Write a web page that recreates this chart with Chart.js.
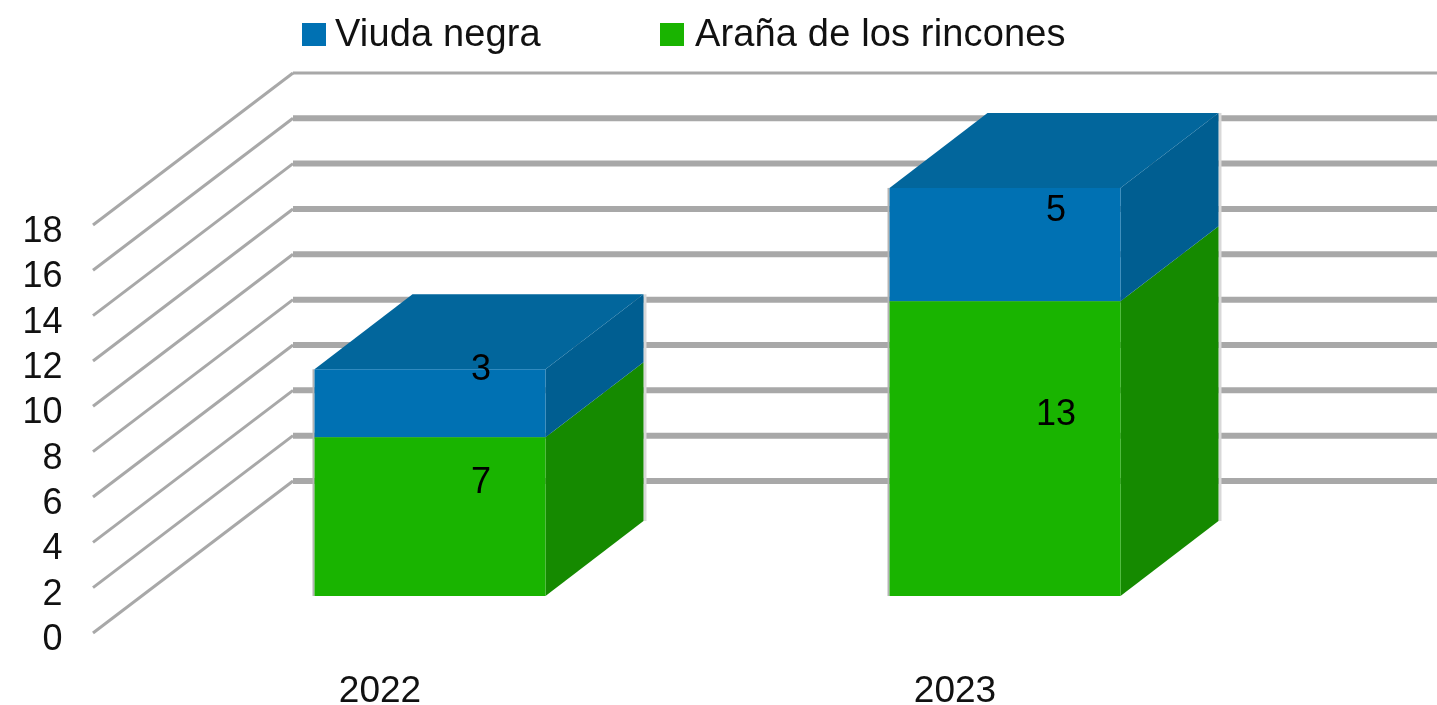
<!DOCTYPE html>
<html>
<head>
<meta charset="utf-8">
<style>
  html, body { margin: 0; background: #fff; }
  canvas { display: block; filter: blur(0.6px); }
</style>
<script src="https://cdn.jsdelivr.net/npm/chart.js@4"></script>
</head>
<body>
<canvas id="grafico" width="1437" height="705"></canvas>
<script>
const anios = ['2022', '2023'];
const aranaRincones = [7, 13];
const viudaNegra = [3, 5];
const ticksPared = [0, 2, 4, 6, 8, 10, 12, 14, 16, 18];

const fuente = '"Liberation Sans", Arial, sans-serif';
const verde = '#19b400', verdeLado = '#158a00';
const azul = '#0071b3', azulLado = '#005e91', azulTecho = '#02669c';

// desplazamiento de la profundidad
const fondoBarra = { x: 98, y: -75 };
const fondoPared = { x: 200, y: -152 };

function poligono(ctx, puntos, color) {
  ctx.fillStyle = color;
  ctx.beginPath();
  puntos.forEach((p, i) => i ? ctx.lineTo(p[0], p[1]) : ctx.moveTo(p[0], p[1]));
  ctx.closePath();
  ctx.fill();
}

const pared = {
  id: 'pared',
  beforeDatasetsDraw(chart) {
    const ctx = chart.ctx;
    const xIni = 93;
    ctx.save();
    ctx.strokeStyle = '#a8a8a8';
    ticksPared.forEach((v) => {
      const y = chart.scales.y.getPixelForValue(v);
      ctx.lineWidth = 3;
      ctx.beginPath();
      ctx.moveTo(xIni, y);
      ctx.lineTo(xIni + fondoPared.x, y + fondoPared.y);
      ctx.stroke();
      ctx.lineWidth = v === 18 ? 3 : 6;
      ctx.beginPath();
      ctx.moveTo(xIni + fondoPared.x, y + fondoPared.y);
      ctx.lineTo(chart.width, y + fondoPared.y);
      ctx.stroke();
    });
    ctx.restore();
  }
};

const caras = {
  id: 'caras',
  beforeDatasetsDraw(chart) {
    const ctx = chart.ctx;
    const d = fondoBarra;
    const colores = [verdeLado, azulLado];
    anios.forEach((a, i) => {
      const inf = chart.getDatasetMeta(0).data[i];
      const sup = chart.getDatasetMeta(1).data[i];
      const izq = inf.x - inf.width / 2;
      const der = inf.x + inf.width / 2;

      // filos grises de la barra
      ctx.fillStyle = '#b4b4b4';
      ctx.fillRect(izq - 2, sup.y, 2, inf.base - sup.y);
      ctx.fillStyle = '#d8d8d8';
      ctx.fillRect(der + d.x, sup.y + d.y, 3, inf.base - sup.y);

      [inf, sup].forEach((b, k) => {
        poligono(ctx, [
          [der, b.base], [der + d.x, b.base + d.y],
          [der + d.x, b.y + d.y], [der, b.y]
        ], colores[k]);
      });
      poligono(ctx, [
        [izq, sup.y], [izq + d.x, sup.y + d.y],
        [der + d.x, sup.y + d.y], [der, sup.y]
      ], azulTecho);
    });
  },
  afterDatasetsDraw(chart) {
    const ctx = chart.ctx;
    ctx.save();
    ctx.fillStyle = '#000';
    ctx.font = '36px ' + fuente;
    ctx.textAlign = 'center';
    ctx.textBaseline = 'middle';
    chart.data.datasets.forEach((ds, k) => {
      chart.getDatasetMeta(k).data.forEach((b, i) => {
        ctx.fillText(ds.data[i], b.x + fondoBarra.x / 2 + 2, (b.y + b.base) / 2 + fondoBarra.y / 2 + 4);
      });
    });
    ctx.restore();
  }
};

const leyenda = {
  id: 'leyenda',
  afterDraw(chart) {
    const ctx = chart.ctx;
    const ds = chart.data.datasets;
    const items = [[ds[1], 302, 335], [ds[0], 660, 695]];
    ctx.save();
    ctx.font = '38px ' + fuente;
    ctx.letterSpacing = '0.15px';
    ctx.textBaseline = 'alphabetic';
    items.forEach(([d, x, xTexto]) => {
      ctx.fillStyle = d.backgroundColor;
      ctx.fillRect(x, 23, 24, 23);
      ctx.fillStyle = '#111';
      ctx.fillText(d.label, xTexto, 46);
    });
    ctx.restore();
  }
};

new Chart(document.getElementById('grafico'), {
  type: 'bar',
  data: {
    labels: anios,
    datasets: [
      { label: 'Araña de los rincones', data: aranaRincones, backgroundColor: verde, yAxisID: 'yBarra' },
      { label: 'Viuda negra', data: viudaNegra, backgroundColor: azul, yAxisID: 'yBarra' }
    ]
  },
  options: {
    responsive: false,
    animation: false,
    barPercentage: 0.4017,
    categoryPercentage: 1,
    layout: { padding: { top: 66.25, right: 144.5, left: 0, bottom: 0 } },
    plugins: { legend: { display: false }, tooltip: { enabled: false } },
    scales: {
      x: {
        stacked: true,
        grid: { display: false, drawTicks: false },
        border: { display: false },
        ticks: { color: '#111', font: { family: fuente, size: 37 }, padding: 37, labelOffset: -50, maxRotation: 0 },
        afterFit(s) { s.height = 72; s.paddingLeft = 0; s.paddingRight = 0; }
      },
      y: {
        min: 0,
        max: 25,
        grid: { display: false, drawTicks: false },
        border: { display: false },
        ticks: {
          stepSize: 2,
          autoSkip: false,
          color: '#111',
          font: { family: fuente, size: 36 },
          padding: 80,
          labelOffset: 7,
          callback: (v) => (v <= 18 ? v : '')
        },
        afterFit(s) { s.width = 142.5; s.paddingTop = 0; s.paddingBottom = 0; }
      },
      // misma escala que y, con el cero en la base de las barras
      yBarra: { stacked: true, display: false, min: -1.632, max: 23.368 }
    }
  },
  plugins: [pared, caras, leyenda]
});
</script>
</body>
</html>
